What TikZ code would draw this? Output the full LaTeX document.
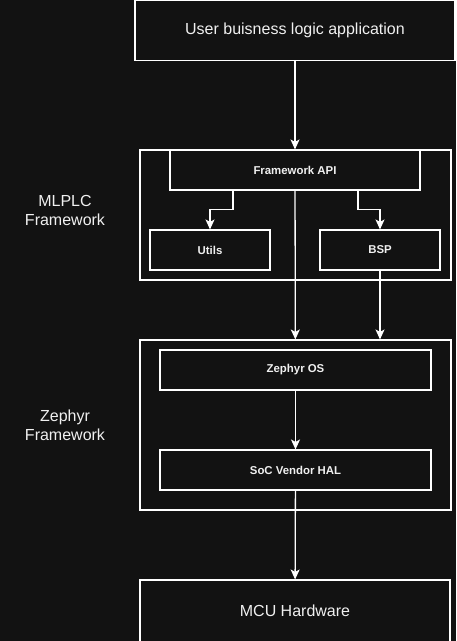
\documentclass[tikz,border=0pt]{standalone}
\usepackage{fontspec}
\setmainfont{Liberation Sans}
\usetikzlibrary{arrows.meta}
\definecolor{bg}{HTML}{121212}
\definecolor{ink}{HTML}{F0F0F0}

\begin{document}
\begin{tikzpicture}[x=1pt, y=-1pt,
    box/.style={draw=white, fill=bg, line width=1.1pt, text=ink, inner sep=0pt},
    big/.style={font=\fontsize{16}{19}\selectfont},
    small/.style={font=\fontsize{11.4}{13}\selectfont\bfseries},
    side/.style={text=ink, align=center, font=\fontsize{16}{19}\selectfont},
    arr/.style={->, >={Stealth[length=10pt, width=9pt, inset=2.5pt]}, draw=white, line width=1.3pt}]

    % Background
    \useasboundingbox (0,0) rectangle (456,641);
    \fill[bg] (0,0) rectangle (456,641);

    % Application
    \node[box, big, minimum width=320, minimum height=60] (app) at (295,30.5) {User buisness logic application};

    % MLPLC framework
    \node[box, minimum width=311, minimum height=130] (mlplc) at (295.5,215) {};
    \node[box, small, minimum width=250, minimum height=40] (api) at (295,170) {Framework API};
    \node[box, small, minimum width=120, minimum height=40] (utils) at (210,250) {Utils};
    \node[box, small, minimum width=120, minimum height=40] (bsp) at (380,250) {BSP};
    \node[side] (mlplclabel) at (65,210) {MLPLC\\Framework};

    % Zephyr framework
    \node[box, minimum width=311, minimum height=170] (zeph) at (295.5,425) {};
    \node[box, small, minimum width=271, minimum height=40] (zos) at (295.5,370) {Zephyr OS};
    \node[box, small, minimum width=271, minimum height=40] (hal) at (295.5,470) {SoC Vendor HAL};
    \node[side] (zephlabel) at (65,425) {Zephyr\\Framework};

    % Hardware
    \node[box, big, minimum width=310, minimum height=62] (mcu) at (295,611) {MCU Hardware};

    % Connections
    \draw[arr] (app) -- (api);
    \draw[arr] (api) -- (zeph);
    \draw[arr] (bsp) -- (bsp |- zeph.north);
    \draw[arr] ([xshift=-62pt]api.south) |- ([yshift=20pt]utils.north) -- (utils);
    \draw[arr] ([xshift=63pt]api.south) |- ([yshift=20pt]bsp.north) -- (bsp);
    \draw[arr] (zos) -- (hal);
    \draw[arr] (hal) -- (mcu);

\end{tikzpicture}
\end{document}
